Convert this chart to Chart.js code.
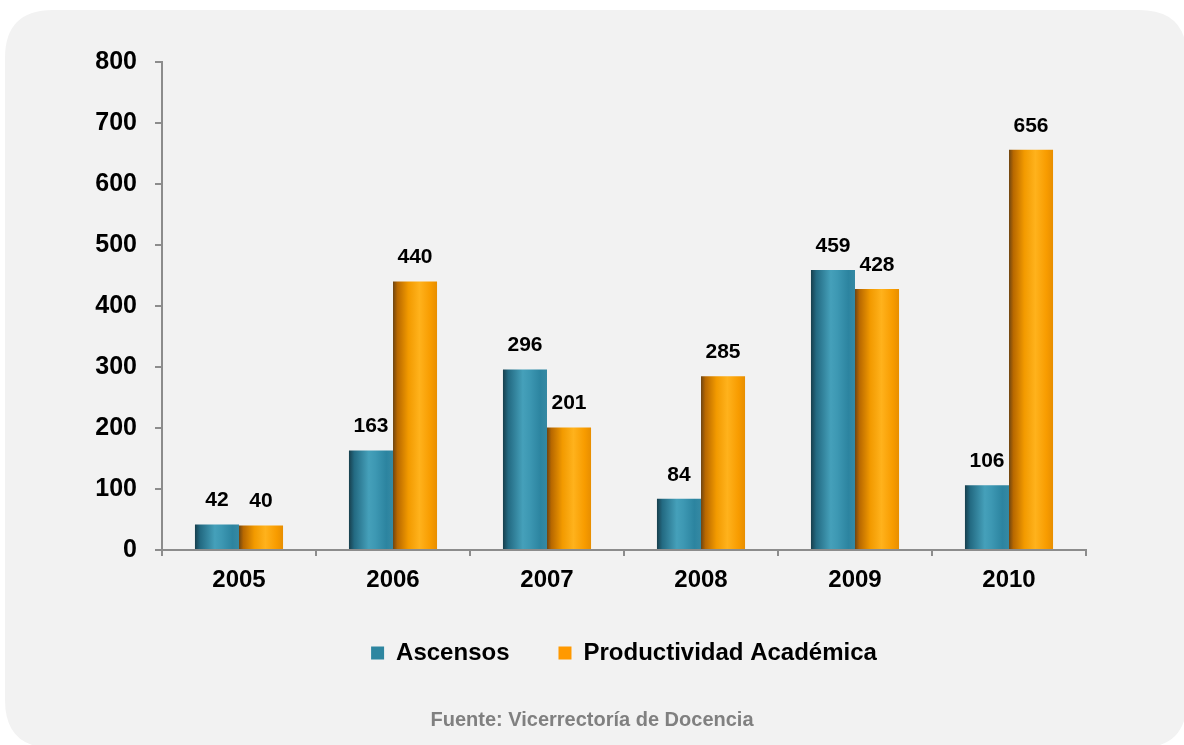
<!DOCTYPE html>
<html>
<head>
<meta charset="utf-8">
<script src="https://cdn.jsdelivr.net/npm/chart.js@4/dist/chart.umd.min.js"></script>
<style>
  html, body { margin: 0; padding: 0; background: #ffffff; }
  #wrap { width: 1184px; height: 745px; }
</style>
</head>
<body>
<div id="wrap"><canvas id="myChart" width="1184" height="745"></canvas></div>
<script>
const years = ['2005', '2006', '2007', '2008', '2009', '2010'];
const ascensos = [42, 163, 296, 84, 459, 106];
const productividad = [40, 440, 201, 285, 428, 656];
const yTicks = [0, 100, 200, 300, 400, 500, 600, 700, 800];
const fontFamily = '"Liberation Sans Narrow", "Arial Narrow", "Liberation Sans", Arial, sans-serif';

// shading for the cylinder look of each bar
const tealStops = [[0, '#173f4d'], [0.12, '#236a82'], [0.45, '#45a0ba'], [0.6, '#3d98b3'], [0.85, '#2c84a0'], [1, '#3589a3']];
const orangeStops = [[0, '#6e4512'], [0.1, '#b86800'], [0.35, '#f29a00'], [0.6, '#ffb21c'], [0.85, '#f89c00'], [1, '#e88e00']];

function roundRect(ctx, x, y, w, h, r) {
    ctx.beginPath();
    ctx.moveTo(x + r, y);
    ctx.lineTo(x + w - r, y);
    ctx.quadraticCurveTo(x + w, y, x + w, y + r);
    ctx.lineTo(x + w, y + h - r);
    ctx.quadraticCurveTo(x + w, y + h, x + w - r, y + h);
    ctx.lineTo(x + r, y + h);
    ctx.quadraticCurveTo(x, y + h, x, y + h - r);
    ctx.lineTo(x, y + r);
    ctx.quadraticCurveTo(x, y, x + r, y);
    ctx.closePath();
}

const panelPlugin = {
    id: 'panel',
    beforeDraw(chart) {
        const ctx = chart.ctx;
        ctx.save();
        ctx.fillStyle = '#f2f2f2';
        roundRect(ctx, 5, 10, 1182, 738, 48);
        ctx.fill();
        ctx.restore();
    }
};

const shadePlugin = {
    id: 'shade',
    beforeDatasetsDraw(chart) {
        const ctx = chart.ctx;
        chart.data.datasets.forEach(function (ds, di) {
            const meta = chart.getDatasetMeta(di);
            const stops = di === 0 ? tealStops : orangeStops;
            meta.data.forEach(function (bar) {
                const left = bar.x - bar.width / 2;
                const g = ctx.createLinearGradient(left, 0, left + bar.width, 0);
                stops.forEach(s => g.addColorStop(s[0], s[1]));
                bar.options = Object.assign({}, bar.options, { backgroundColor: g });
            });
        });
    }
};

const valuePlugin = {
    id: 'values',
    afterDatasetsDraw(chart) {
        const ctx = chart.ctx;
        ctx.save();
        ctx.font = 'bold 21px ' + fontFamily;
        ctx.fillStyle = '#000000';
        ctx.textAlign = 'center';
        ctx.textBaseline = 'middle';
        chart.data.datasets.forEach(function (ds, di) {
            const meta = chart.getDatasetMeta(di);
            meta.data.forEach(function (bar, i) {
                ctx.fillText(String(ds.data[i]), bar.x, bar.y - 24);
            });
        });
        ctx.restore();
    }
};

const chartData = {
    labels: years,
    datasets: [{
        label: 'Ascensos',
        data: ascensos,
        backgroundColor: '#2e86a0',
        borderWidth: 0
    }, {
        label: 'Productividad Académica',
        data: productividad,
        backgroundColor: '#ff9900',
        borderWidth: 0
    }]
};

const chartConfig = {
    type: 'bar',
    data: chartData,
    plugins: [panelPlugin, shadePlugin, valuePlugin],
    options: {
        responsive: false,
        animation: false,
        devicePixelRatio: 1,
        layout: { padding: { left: 0, top: 62, right: 0, bottom: 0 } },
        datasets: { bar: { categoryPercentage: 0.572, barPercentage: 1 } },
        scales: {
            x: {
                grid: { drawOnChartArea: false, color: '#8c8c8c', lineWidth: 2, tickLength: 6, offset: true },
                border: { color: '#8c8c8c', width: 2 },
                ticks: { color: '#000000', font: { family: fontFamily, size: 24, weight: 'bold' }, padding: 10, maxRotation: 0 },
                afterFit(scale) { scale.height = 42; }
            },
            y: {
                min: 0,
                max: 800,
                afterBuildTicks(scale) { scale.ticks = yTicks.map(v => ({ value: v })); },
                grid: { drawOnChartArea: false, color: '#8c8c8c', lineWidth: 2, tickLength: 7 },
                border: { color: '#8c8c8c', width: 2 },
                ticks: { color: '#000000', font: { family: fontFamily, size: 25, weight: 'bold' }, padding: 18 },
                afterFit(scale) { scale.width = 162; }
            },
            // empty right margin so the caption stays centred on the panel
            yRight: {
                position: 'right',
                display: true,
                grid: { display: false },
                border: { display: false },
                ticks: { display: false },
                afterFit(scale) { scale.width = 98; }
            }
        },
        plugins: {
            legend: {
                position: 'bottom',
                fullSize: false,
                labels: {
                    boxWidth: 13,
                    boxHeight: 13,
                    padding: 49,
                    color: '#000000',
                    font: { family: fontFamily, size: 24, weight: 'bold' }
                }
            },
            subtitle: {
                display: true,
                position: 'bottom',
                text: 'Fuente: Vicerrectoría de Docencia',
                color: '#808080',
                font: { family: fontFamily, size: 20, weight: 'bold', lineHeight: 1.2 },
                padding: { top: 33, bottom: 13 }
            },
            tooltip: { enabled: false }
        }
    }
};

const chartCtx = document.getElementById('myChart').getContext('2d');
const myChart = new Chart(chartCtx, chartConfig);
</script>
</body>
</html>
